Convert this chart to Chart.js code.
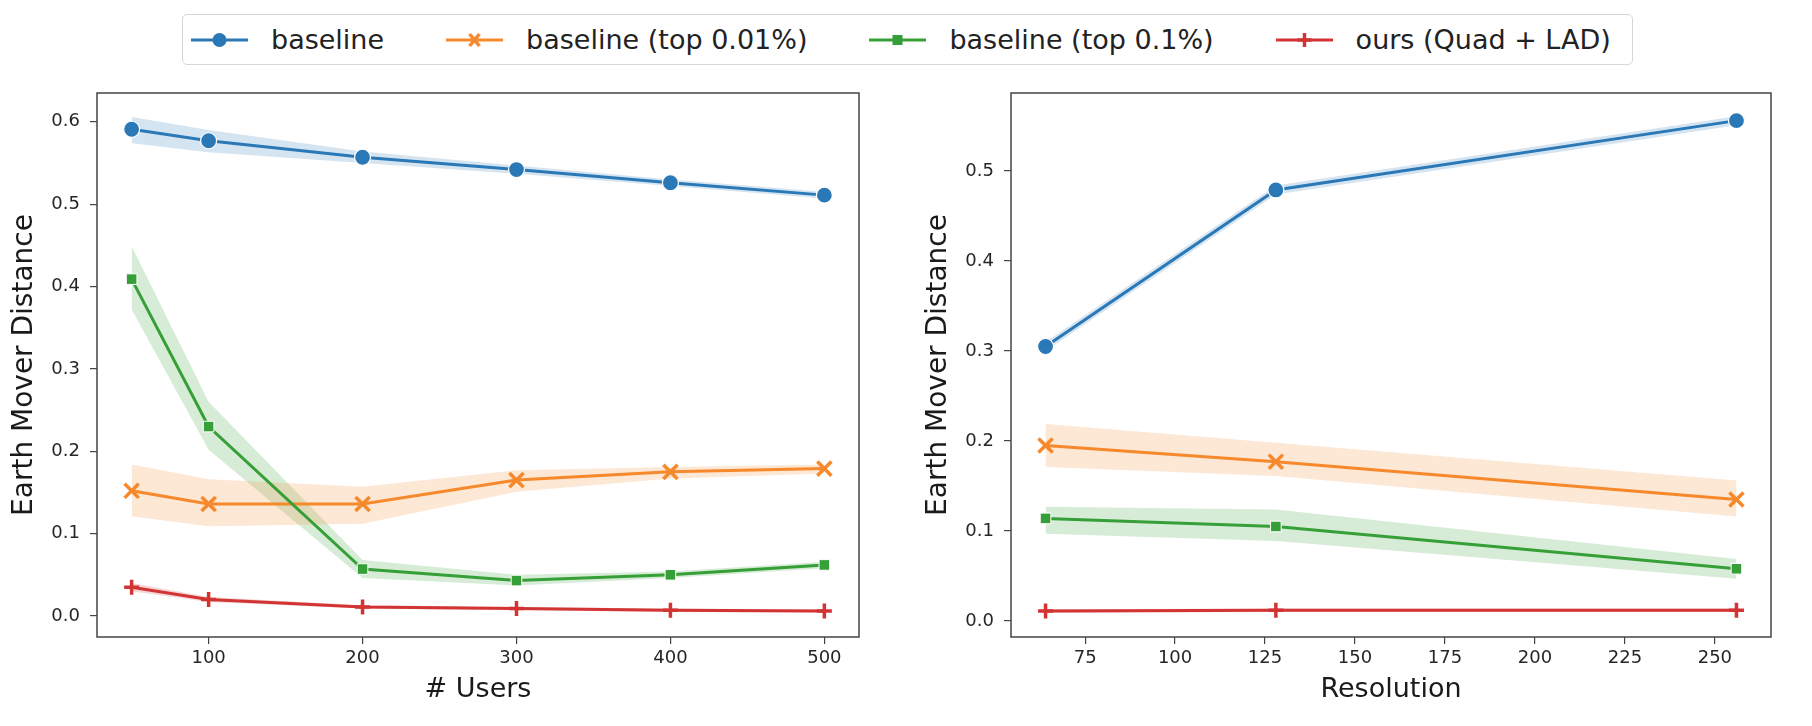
<!DOCTYPE html>
<html>
<head>
<meta charset="utf-8">
<script src="https://cdn.jsdelivr.net/npm/chart.js@4.4.1/dist/chart.umd.min.js"></script>
<style>
body { margin: 0; background: #fff; }
#wrap { position: relative; width: 1812px; height: 726px; overflow: hidden; font-family: "DejaVu Sans"; }
#c1 { position: absolute; left: 0; top: 0; }
#c2 { position: absolute; left: 906px; top: 0; }
#legend { position: absolute; left: 182px; top: 14px; width: 1451px; height: 51px; box-sizing: border-box;
  border: 1.5px solid #d6d6d6; border-radius: 5px; display: flex; align-items: center; padding-left: 8px; gap: 62px; }
.item { display: flex; align-items: center; gap: 23px; font-size: 27px; color: #222; white-space: nowrap; }
</style>
</head>
<body>
<div id="wrap">
  <div id="legend"></div>
  <canvas id="c1" width="906" height="726"></canvas>
  <canvas id="c2" width="906" height="726"></canvas>
</div>
<script>
// legend / series names
const labels = ['baseline', 'baseline (top 0.01%)', 'baseline (top 0.1%)', 'ours (Quad + LAD)'];
const colors = ['#2b78b7', '#f6892c', '#379f37', '#d23434'];

// left panel: # Users
const users = [50, 100, 200, 300, 400, 500];
const usersBaseline     = [0.591, 0.577, 0.557, 0.542, 0.526, 0.511];
const usersBaselineLow  = [0.574, 0.563, 0.550, 0.537, 0.522, 0.507];
const usersBaselineHigh = [0.606, 0.590, 0.564, 0.547, 0.530, 0.515];
const usersTop001     = [0.152, 0.136, 0.136, 0.165, 0.175, 0.179];
const usersTop001Low  = [0.121, 0.109, 0.112, 0.151, 0.167, 0.173];
const usersTop001High = [0.184, 0.166, 0.157, 0.177, 0.181, 0.184];
const usersTop01     = [0.409, 0.230, 0.057, 0.043, 0.050, 0.062];
const usersTop01Low  = [0.372, 0.202, 0.046, 0.037, 0.046, 0.058];
const usersTop01High = [0.449, 0.260, 0.068, 0.050, 0.054, 0.066];
const usersOurs     = [0.035, 0.020, 0.011, 0.009, 0.007, 0.006];
const usersOursLow  = [0.030, 0.017, 0.009, 0.007, 0.005, 0.004];
const usersOursHigh = [0.040, 0.023, 0.013, 0.011, 0.009, 0.008];
const usersXTicks = [100, 200, 300, 400, 500];
const usersYTicks = [0.0, 0.1, 0.2, 0.3, 0.4, 0.5, 0.6];

// right panel: Resolution
const resolutions = [64, 128, 256];
const resBaseline     = [0.305, 0.479, 0.556];
const resBaselineLow  = [0.300, 0.474, 0.551];
const resBaselineHigh = [0.310, 0.484, 0.561];
const resTop001     = [0.195, 0.177, 0.135];
const resTop001Low  = [0.171, 0.161, 0.116];
const resTop001High = [0.219, 0.198, 0.156];
const resTop01     = [0.114, 0.105, 0.058];
const resTop01Low  = [0.097, 0.089, 0.047];
const resTop01High = [0.127, 0.124, 0.069];
const resOurs     = [0.011, 0.012, 0.012];
const resOursLow  = [0.009, 0.010, 0.010];
const resOursHigh = [0.013, 0.014, 0.014];
const resXTicks = [75, 100, 125, 150, 175, 200, 225, 250];
const resYTicks = [0.0, 0.1, 0.2, 0.3, 0.4, 0.5];

const markers = [
  {pointStyle: 'circle', radius: 8, borderWidth: 1.2, white: true},
  {pointStyle: 'crossRot', radius: 10, borderWidth: 3.5},
  {pointStyle: 'rect', radius: 7.5, borderWidth: 1, white: true},
  {pointStyle: 'cross', radius: 7.5, borderWidth: 3.5}
];

function rgba(hex, a) {
  const n = parseInt(hex.slice(1), 16);
  return `rgba(${n >> 16},${(n >> 8) & 255},${n & 255},${a})`;
}
function pts(xs, ys) { return xs.map((x, i) => ({x: x, y: ys[i]})); }

const framePlugin = {
  id: 'frame',
  afterDatasetsDraw(chart) {
    const a = chart.chartArea, ctx = chart.ctx;
    ctx.save();
    ctx.strokeStyle = '#444';
    ctx.lineWidth = 1.5;
    ctx.strokeRect(a.left, a.top, a.right - a.left, a.bottom - a.top);
    ctx.restore();
  }
};

function makeChart(id, xs, means, lows, highs, xLim, yLim, xTicks, yTicks, xTitle, yWidth, padRight, yTitlePad) {
  const datasets = [];
  means.forEach((m, k) => {
    datasets.push({data: pts(xs, highs[k]), borderWidth: 0, pointRadius: 0, fill: false, order: 10});
    datasets.push({data: pts(xs, lows[k]), borderWidth: 0, pointRadius: 0, fill: '-1',
      backgroundColor: rgba(colors[k], 0.2), order: 10});
  });
  means.forEach((m, k) => {
    const mk = markers[k];
    datasets.push({
      label: labels[k], data: pts(xs, m), borderColor: colors[k], borderWidth: 3, fill: false,
      pointStyle: mk.pointStyle, pointRadius: mk.radius, pointBorderWidth: mk.borderWidth,
      pointBackgroundColor: colors[k], pointBorderColor: mk.white ? '#fff' : colors[k],
      order: -k
    });
  });
  const tickFont = {family: 'DejaVu Sans', size: 18};
  const gridOpts = {display: true, drawOnChartArea: false, drawTicks: true, tickLength: 7, color: '#444', lineWidth: 1.2};
  return new Chart(document.getElementById(id), {
    type: 'line',
    data: {datasets: datasets},
    options: {
      responsive: false, animation: false, devicePixelRatio: 1,
      layout: {padding: {top: 93, right: padRight, left: 0, bottom: 0}},
      elements: {line: {tension: 0}},
      plugins: {legend: {display: false}, tooltip: {enabled: false}},
      scales: {
        x: {
          type: 'linear', min: xLim[0], max: xLim[1],
          afterBuildTicks: sc => { sc.ticks = xTicks.map(v => ({value: v})); },
          afterFit: sc => { sc.height = 89; },
          grid: gridOpts, border: {display: false},
          ticks: {font: tickFont, color: '#262626', padding: 4, maxRotation: 0, autoSkip: false, callback: v => String(v)},
          title: {display: true, text: xTitle, font: {family: 'DejaVu Sans', size: 27}, color: '#1a1a1a', padding: {top: 0, bottom: 20}}
        },
        y: {
          type: 'linear', min: yLim[0], max: yLim[1],
          afterBuildTicks: sc => { sc.ticks = yTicks.map(v => ({value: v})); },
          afterFit: sc => { sc.width = yWidth; },
          grid: gridOpts, border: {display: false},
          ticks: {font: tickFont, color: '#262626', padding: 10, autoSkip: false, callback: v => v.toFixed(1)},
          title: {display: true, text: 'Earth Mover Distance', font: {family: 'DejaVu Sans', size: 28}, color: '#1a1a1a', padding: {top: yTitlePad, bottom: 0}}
        }
      }
    },
    plugins: [framePlugin]
  });
}

makeChart('c1', users,
  [usersBaseline, usersTop001, usersTop01, usersOurs],
  [usersBaselineLow, usersTop001Low, usersTop01Low, usersOursLow],
  [usersBaselineHigh, usersTop001High, usersTop01High, usersOursHigh],
  [27.5, 522.5], [-0.0255, 0.635], usersXTicks, usersYTicks, '# Users', 97, 47, 8);

makeChart('c2', resolutions,
  [resBaseline, resTop001, resTop01, resOurs],
  [resBaselineLow, resTop001Low, resTop01Low, resOursLow],
  [resBaselineHigh, resTop001High, resTop01High, resOursHigh],
  [54.4, 265.6], [-0.0178, 0.5867], resXTicks, resYTicks, 'Resolution', 105, 41, 16);

// legend in a box above both panels
function drawIcon(c, k) {
  const ctx = c.getContext('2d'), w = c.width, h = c.height, cx = w / 2, cy = h / 2;
  ctx.strokeStyle = colors[k];
  ctx.fillStyle = colors[k];
  ctx.lineWidth = 3;
  ctx.beginPath(); ctx.moveTo(0, cy); ctx.lineTo(w, cy); ctx.stroke();
  const st = markers[k].pointStyle;
  if (st === 'circle') {
    ctx.beginPath(); ctx.arc(cx, cy, 7, 0, Math.PI * 2); ctx.fill();
  } else if (st === 'rect') {
    ctx.fillRect(cx - 5, cy - 5, 10, 10);
  } else if (st === 'crossRot') {
    ctx.lineWidth = 3.5;
    ctx.beginPath();
    ctx.moveTo(cx - 5, cy - 6); ctx.lineTo(cx + 5, cy + 6);
    ctx.moveTo(cx + 5, cy - 6); ctx.lineTo(cx - 5, cy + 6);
    ctx.stroke();
  } else {
    ctx.lineWidth = 3.5;
    ctx.beginPath();
    ctx.moveTo(cx, cy - 7); ctx.lineTo(cx, cy + 7);
    ctx.moveTo(cx - 7, cy); ctx.lineTo(cx + 7, cy);
    ctx.stroke();
  }
}
const legend = document.getElementById('legend');
labels.forEach((lab, k) => {
  const item = document.createElement('div');
  item.className = 'item';
  const icon = document.createElement('canvas');
  icon.width = 57; icon.height = 30;
  drawIcon(icon, k);
  const txt = document.createElement('span');
  txt.textContent = lab;
  item.appendChild(icon);
  item.appendChild(txt);
  legend.appendChild(item);
});
</script>
</body>
</html>
